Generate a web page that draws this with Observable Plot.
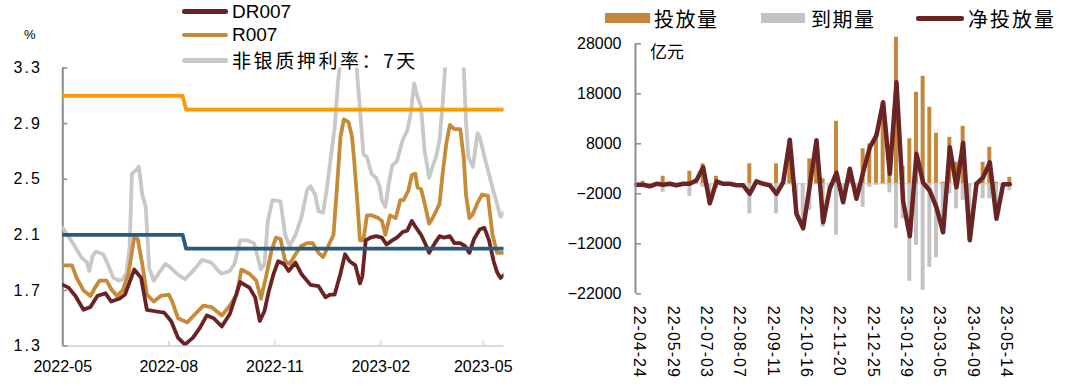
<!DOCTYPE html>
<html><head><meta charset="utf-8">
<script src="https://cdn.jsdelivr.net/npm/d3@7"></script>
<script src="https://cdn.jsdelivr.net/npm/@observablehq/plot@0.6"></script>
<style>
body{margin:0;background:#fff;}
#wrap{position:relative;width:1080px;height:386px;overflow:hidden;font-family:"Liberation Sans",Arial,sans-serif;color:#000;}
.abs{position:absolute;white-space:nowrap;}
.cjk{font-family:"Noto Sans CJK SC","Liberation Sans",sans-serif;}
#right g[aria-label="x-axis tick label"] text{letter-spacing:1px;}
#left g[aria-label="y-axis tick label"] text{letter-spacing:2px;}
</style></head><body>
<div id="wrap">
  <div id="left" class="abs" style="left:0;top:0"></div>
  <div id="right" class="abs" style="left:540px;top:0"></div>
</div>
<script>
// ---------- LEFT CHART DATA ----------
const leftNames = ["DR007", "R007", "非银质押利率：7天"];
const leftXTicks = ["2022-05-01","2022-08-01","2022-11-01","2023-02-01","2023-05-01"];
const leftYTicks = [1.3, 1.7, 2.1, 2.5, 2.9, 3.3];

const drDates = ["2022-05-01","2022-05-06","2022-05-12","2022-05-19","2022-05-25","2022-05-31","2022-06-07","2022-06-12","2022-06-19","2022-06-24","2022-07-02","2022-07-08","2022-07-13","2022-07-20","2022-07-28","2022-08-03","2022-08-09","2022-08-15","2022-08-22","2022-08-28","2022-09-03","2022-09-09","2022-09-16","2022-09-23","2022-10-02","2022-10-10","2022-10-15","2022-10-19","2022-10-23","2022-10-27","2022-10-31","2022-11-04","2022-11-09","2022-11-13","2022-11-19","2022-11-24","2022-12-02","2022-12-09","2022-12-15","2022-12-19","2022-12-23","2022-12-28","2023-01-01","2023-01-05","2023-01-10","2023-01-14","2023-01-16","2023-01-19","2023-01-23","2023-01-28","2023-02-02","2023-02-06","2023-02-11","2023-02-15","2023-02-20","2023-02-24","2023-02-28","2023-03-03","2023-03-08","2023-03-12","2023-03-15","2023-03-20","2023-03-24","2023-03-28","2023-04-02","2023-04-06","2023-04-11","2023-04-15","2023-04-19","2023-04-23","2023-04-28","2023-05-02","2023-05-06","2023-05-10","2023-05-13","2023-05-16","2023-05-19"];
const drValues = [1.74,1.72,1.66,1.56,1.58,1.66,1.68,1.62,1.64,1.67,1.85,1.79,1.56,1.55,1.54,1.48,1.36,1.31,1.36,1.43,1.52,1.50,1.44,1.53,1.76,1.72,1.65,1.48,1.55,1.70,1.82,1.91,1.89,1.84,1.90,1.82,1.74,1.73,1.65,1.67,1.67,1.82,1.96,1.91,1.88,1.75,1.80,2.06,2.08,2.09,2.08,2.03,2.06,2.08,2.12,2.13,2.20,2.16,2.10,2.03,1.97,2.04,2.09,2.08,2.09,2.04,2.04,2.02,1.97,2.07,2.14,2.15,2.06,1.91,1.83,1.79,1.81];

const rDates = ["2022-05-01","2022-05-09","2022-05-13","2022-05-19","2022-05-25","2022-05-29","2022-06-02","2022-06-08","2022-06-12","2022-06-17","2022-06-22","2022-06-27","2022-07-02","2022-07-05","2022-07-09","2022-07-13","2022-07-19","2022-07-25","2022-08-01","2022-08-04","2022-08-09","2022-08-17","2022-08-24","2022-08-31","2022-09-07","2022-09-16","2022-09-23","2022-09-29","2022-10-03","2022-10-10","2022-10-16","2022-10-20","2022-10-25","2022-10-29","2022-11-02","2022-11-06","2022-11-10","2022-11-14","2022-11-19","2022-11-24","2022-11-29","2022-12-04","2022-12-09","2022-12-13","2022-12-17","2022-12-22","2022-12-25","2022-12-28","2022-12-31","2023-01-04","2023-01-07","2023-01-09","2023-01-12","2023-01-14","2023-01-17","2023-01-20","2023-01-24","2023-01-30","2023-02-02","2023-02-05","2023-02-09","2023-02-14","2023-02-18","2023-02-21","2023-02-25","2023-02-28","2023-03-03","2023-03-05","2023-03-08","2023-03-11","2023-03-15","2023-03-18","2023-03-21","2023-03-24","2023-03-27","2023-03-30","2023-04-02","2023-04-06","2023-04-11","2023-04-14","2023-04-16","2023-04-19","2023-04-22","2023-04-26","2023-04-30","2023-05-05","2023-05-09","2023-05-13","2023-05-19"];
const rValues = [1.88,1.88,1.79,1.70,1.66,1.72,1.77,1.77,1.71,1.66,1.70,1.82,2.08,2.07,1.89,1.67,1.62,1.66,1.67,1.62,1.50,1.47,1.53,1.59,1.58,1.52,1.59,1.67,1.85,1.82,1.77,1.64,1.82,1.98,2.08,2.07,1.91,1.89,1.96,2.02,2.04,2.04,1.97,1.94,2.01,2.10,2.44,2.80,2.93,2.91,2.81,2.63,2.30,2.06,2.06,2.24,2.24,2.22,2.20,2.10,2.24,2.22,2.35,2.35,2.42,2.53,2.54,2.44,2.43,2.33,2.18,2.22,2.27,2.32,2.56,2.76,2.89,2.86,2.86,2.66,2.39,2.22,2.25,2.33,2.39,2.38,2.10,1.97,1.97];

const nbDates = ["2022-05-01","2022-05-09","2022-05-17","2022-05-22","2022-05-24","2022-05-27","2022-05-30","2022-06-05","2022-06-09","2022-06-14","2022-06-19","2022-06-22","2022-06-25","2022-06-28","2022-06-30","2022-07-03","2022-07-06","2022-07-09","2022-07-12","2022-07-15","2022-07-19","2022-07-23","2022-07-29","2022-08-02","2022-08-08","2022-08-15","2022-08-22","2022-08-30","2022-09-03","2022-09-07","2022-09-12","2022-09-16","2022-09-23","2022-09-27","2022-10-02","2022-10-08","2022-10-14","2022-10-20","2022-10-23","2022-10-26","2022-10-30","2022-11-06","2022-11-10","2022-11-14","2022-11-19","2022-11-24","2022-11-29","2022-12-02","2022-12-06","2022-12-09","2022-12-13","2022-12-16","2022-12-20","2022-12-23","2022-12-26","2023-01-04","2023-01-11","2023-01-14","2023-01-17","2023-01-20","2023-01-24","2023-01-28","2023-01-31","2023-02-02","2023-02-05","2023-02-08","2023-02-11","2023-02-15","2023-02-20","2023-02-24","2023-02-27","2023-03-02","2023-03-05","2023-03-08","2023-03-11","2023-03-15","2023-03-18","2023-03-21","2023-03-24","2023-03-27","2023-03-29","2023-04-05","2023-04-14","2023-04-16","2023-04-18","2023-04-22","2023-04-26","2023-04-28","2023-05-03","2023-05-09","2023-05-16","2023-05-19"];
const nbValues = [2.15,2.05,1.94,1.90,1.84,1.95,1.98,1.96,1.89,1.79,1.77,1.78,1.82,2.01,2.54,2.56,2.59,2.39,2.30,1.86,1.77,1.82,1.89,1.87,1.82,1.78,1.84,1.92,1.91,1.90,1.85,1.82,1.84,1.89,2.06,2.06,2.04,1.85,1.89,2.20,2.35,2.34,2.10,2.02,2.10,2.22,2.42,2.45,2.39,2.27,2.26,2.42,2.68,2.87,3.21,3.80,3.32,2.99,2.68,2.66,2.54,2.51,2.45,2.35,2.30,2.47,2.60,2.63,2.78,2.85,2.97,3.19,3.09,3.02,2.71,2.51,2.59,2.66,2.78,3.07,3.32,3.80,3.32,2.92,2.66,2.59,2.83,2.80,2.63,2.44,2.23,2.26];

const policyDates = ["2022-05-01","2022-08-13","2022-08-16","2023-05-19"];
const slfValues = [3.1, 3.1, 3.0, 3.0];
const rrValues  = [2.1, 2.1, 2.0, 2.0];

// ---------- RIGHT CHART DATA ----------
const rightNames = ["投放量", "到期量", "净投放量"];
const weeks = ["2022-04-24","2022-05-01","2022-05-08","2022-05-15","2022-05-22","2022-05-29","2022-06-05","2022-06-12","2022-06-19","2022-06-26","2022-07-03","2022-07-10","2022-07-17","2022-07-24","2022-07-31","2022-08-07","2022-08-14","2022-08-21","2022-08-28","2022-09-04","2022-09-11","2022-09-18","2022-09-25","2022-10-02","2022-10-09","2022-10-16","2022-10-23","2022-10-30","2022-11-06","2022-11-13","2022-11-20","2022-11-27","2022-12-04","2022-12-11","2022-12-18","2022-12-25","2023-01-01","2023-01-08","2023-01-15","2023-01-22","2023-01-29","2023-02-05","2023-02-12","2023-02-19","2023-02-26","2023-03-05","2023-03-12","2023-03-19","2023-03-26","2023-04-02","2023-04-09","2023-04-16","2023-04-23","2023-04-30","2023-05-07","2023-05-14","2023-05-21"];
const weekTicks = ["2022-04-24","2022-05-29","2022-07-03","2022-08-07","2022-09-11","2022-10-16","2022-11-20","2022-12-25","2023-01-29","2023-03-05","2023-04-09","2023-05-14"];
const injValues = [0,500,0,0,1500,0,0,0,2500,700,4000,0,1500,0,0,0,0,4000,500,0,0,4000,300,8800,0,0,5000,8700,1000,0,12500,0,3000,0,7000,8000,10000,16300,3800,29300,3500,9000,18300,21500,15300,10100,300,9300,4300,11500,0,300,4300,7300,300,0,1300];
const matValues = [-200,-700,-500,0,-1700,0,-300,0,-2500,0,-700,-3900,-1000,0,0,-300,-300,-6000,0,0,-300,-6000,0,0,-6000,-8900,-5300,0,-8700,-1000,-10300,-3700,0,-3000,-4700,-700,-300,0,-1800,-9000,-7000,-19500,-12300,-21300,-16700,-14800,-10000,-2000,-5000,-3300,-11300,-300,-3000,-3000,-7000,-100,-1400];
const netValues = [-200,-200,-500,0,-200,0,-300,0,0,700,3300,-3900,500,0,0,-300,-300,-2000,500,0,-300,-2000,300,8800,-6000,-8900,-300,8700,-7700,-1000,2200,-3700,3000,-3000,2300,7300,9700,16300,2000,20300,-3500,-10500,6000,200,-1400,-4700,-9700,7300,-700,8200,-11300,0,1300,4300,-7000,-100,-100];

// ---------- COLORS ----------
const C = {dr:"#6b2222", r:"#c68a38", nb:"#c8c8c8", slf:"#ff9900", rr:"#2b5a80",
           inj:"#c5873a", mat:"#c3c3c3", net:"#6b2424", axis:"#8c8c8c", base:"#d9d9d9"};

const T = s => new Date(s);
const series = (dates, vals) => dates.map((d, i) => ({date: T(d), value: vals[i]}));
const dr = series(drDates, drValues), r7 = series(rDates, rValues), nb = series(nbDates, nbValues);
const slf = series(policyDates, slfValues), rr = series(policyDates, rrValues);
const x0 = T("2022-05-01"), x1 = T("2023-05-19");

const lineOpts = (stroke, w) => ({x: "date", y: "value", stroke, strokeWidth: w, strokeLinejoin: "round", strokeLinecap: "round", clip: true});

const left = Plot.plot({
  width: 540, height: 386,
  marginLeft: 62.3, marginRight: 36.5, marginTop: 67.5, marginBottom: 40.5,
  x: {type: "utc", domain: [x0, x1]},
  y: {domain: [1.3, 3.3]},
  style: {fontFamily: "'Liberation Sans', Arial, sans-serif", fontSize: "16px", color: "#000", background: "transparent", overflow: "visible"},
  marks: [
    Plot.ruleY([1.3], {stroke: C.base, strokeWidth: 2}),
    Plot.axisX({ticks: leftXTicks.map(T), tickSize: -5, fill: "none", stroke: C.base, strokeWidth: 1.5}),
    Plot.axisX({ticks: leftXTicks.map(T), tickSize: 0, tickPadding: 15, tickFormat: d3.utcFormat("%Y-%m"), fontSize: 16, label: null}),
    Plot.axisY({ticks: leftYTicks, tickSize: 0, tickPadding: 21, tickFormat: d3.format(".1f"), fontSize: 16, label: null}),
    Plot.axisY({ticks: leftYTicks, tickSize: -5, fill: "none", stroke: C.axis, strokeWidth: 1.5, label: null}),
    Plot.ruleX([x0], {y1: 1.3, y2: 3.3, stroke: C.axis, strokeWidth: 2}),
    Plot.line(nb, lineOpts(C.nb, 3.8)),
    Plot.line(r7, lineOpts(C.r, 3.8)),
    Plot.line(dr, lineOpts(C.dr, 3.8)),
    Plot.line(slf, lineOpts(C.slf, 3.8)),
    Plot.line(rr, lineOpts(C.rr, 3.8))
  ]
});
document.getElementById("left").appendChild(left);

const wk = weeks.map((d, i) => ({date: T(d), inj: injValues[i], mat: matValues[i], net: netValues[i]}));
const w0 = T(weeks[0]), w1 = T(weeks[weeks.length - 1]);
const half = d => d3.utcHour.offset(d.date, -50), halfR = d => d3.utcHour.offset(d.date, 50);
const rYTicks = [-22000, -12000, -2000, 8000, 18000, 28000];

const right = Plot.plot({
  width: 540, height: 386,
  marginLeft: 96, marginRight: 70.7, marginTop: 43.3, marginBottom: 92.7,
  x: {type: "utc", domain: [w0, w1]},
  y: {domain: [-22000, 28000]},
  style: {fontFamily: "'Liberation Sans', Arial, sans-serif", fontSize: "16px", color: "#000", background: "transparent", overflow: "visible"},
  marks: [
    Plot.ruleY([0], {stroke: C.base, strokeWidth: 1.5}),
    Plot.rect(wk, {x1: half, x2: halfR, y1: 0, y2: "inj", fill: C.inj}),
    Plot.rect(wk, {x1: half, x2: halfR, y1: 0, y2: "mat", fill: C.mat}),
    Plot.line(wk, {x: "date", y: "net", stroke: C.net, strokeWidth: 4.5, strokeLinejoin: "round", strokeLinecap: "round"}),
    Plot.axisY({ticks: rYTicks, tickSize: 0, tickPadding: 15, tickFormat: d3.format("d"), fontSize: 16, label: null}),
    Plot.axisY({ticks: rYTicks, tickSize: -5, fill: "none", stroke: C.axis, strokeWidth: 1.5, label: null}),
    Plot.ruleX([w0], {y1: -22000, y2: 28000, stroke: C.axis, strokeWidth: 2, dx: -1}),
    Plot.axisX({ticks: weekTicks.map(T), tickSize: 0, tickPadding: 12, tickRotate: 90, dx: 3, tickFormat: d3.utcFormat("%y-%m-%d"), fontSize: 16, label: null})
  ]
});
document.getElementById("right").appendChild(right);

// ---------- LEGENDS / UNIT LABELS (HTML text) ----------
const wrap = document.getElementById("wrap");
function add(txt, style, cls) {
  const el = document.createElement("div");
  el.className = "abs " + (cls || "");
  el.style.cssText += style;
  el.textContent = txt;
  wrap.appendChild(el);
  return el;
}
// left legend
const lc = [C.dr, C.r, C.nb], ly = [11.7, 35.2, 60.3];
leftNames.forEach((n, i) => {
  add("", `left:182px;top:${ly[i] - 2.25}px;width:46px;height:4.5px;border-radius:2.25px;background:${lc[i]};`);
  const isCjk = /[\u4e00-\u9fff]/.test(n);
  add(n, `left:232px;top:${ly[i] - 11}px;height:22px;line-height:22px;font-size:${isCjk ? 19 : 19}px;${isCjk ? "letter-spacing:2.6px;" : ""}`, isCjk ? "cjk" : "");
});
add("%", "left:24px;top:28px;font-size:13px;line-height:14px;");
// right legend
add("", `left:605px;top:13.3px;width:45px;height:10px;background:${C.inj};`);
add(rightNames[0], "left:654px;top:7px;font-size:20px;line-height:23px;letter-spacing:1.5px;", "cjk");
add("", `left:761px;top:13.3px;width:44px;height:10px;background:${C.mat};`);
add(rightNames[1], "left:811px;top:7px;font-size:20px;line-height:23px;letter-spacing:1.5px;", "cjk");
add("", `left:916px;top:16px;width:48px;height:4.5px;border-radius:2.25px;background:${C.net};`);
add(rightNames[2], "left:968px;top:7px;font-size:20px;line-height:23px;letter-spacing:2px;", "cjk");
add("亿元", "left:650px;top:40px;font-size:17px;line-height:21px;", "cjk");
</script>
</body></html>
